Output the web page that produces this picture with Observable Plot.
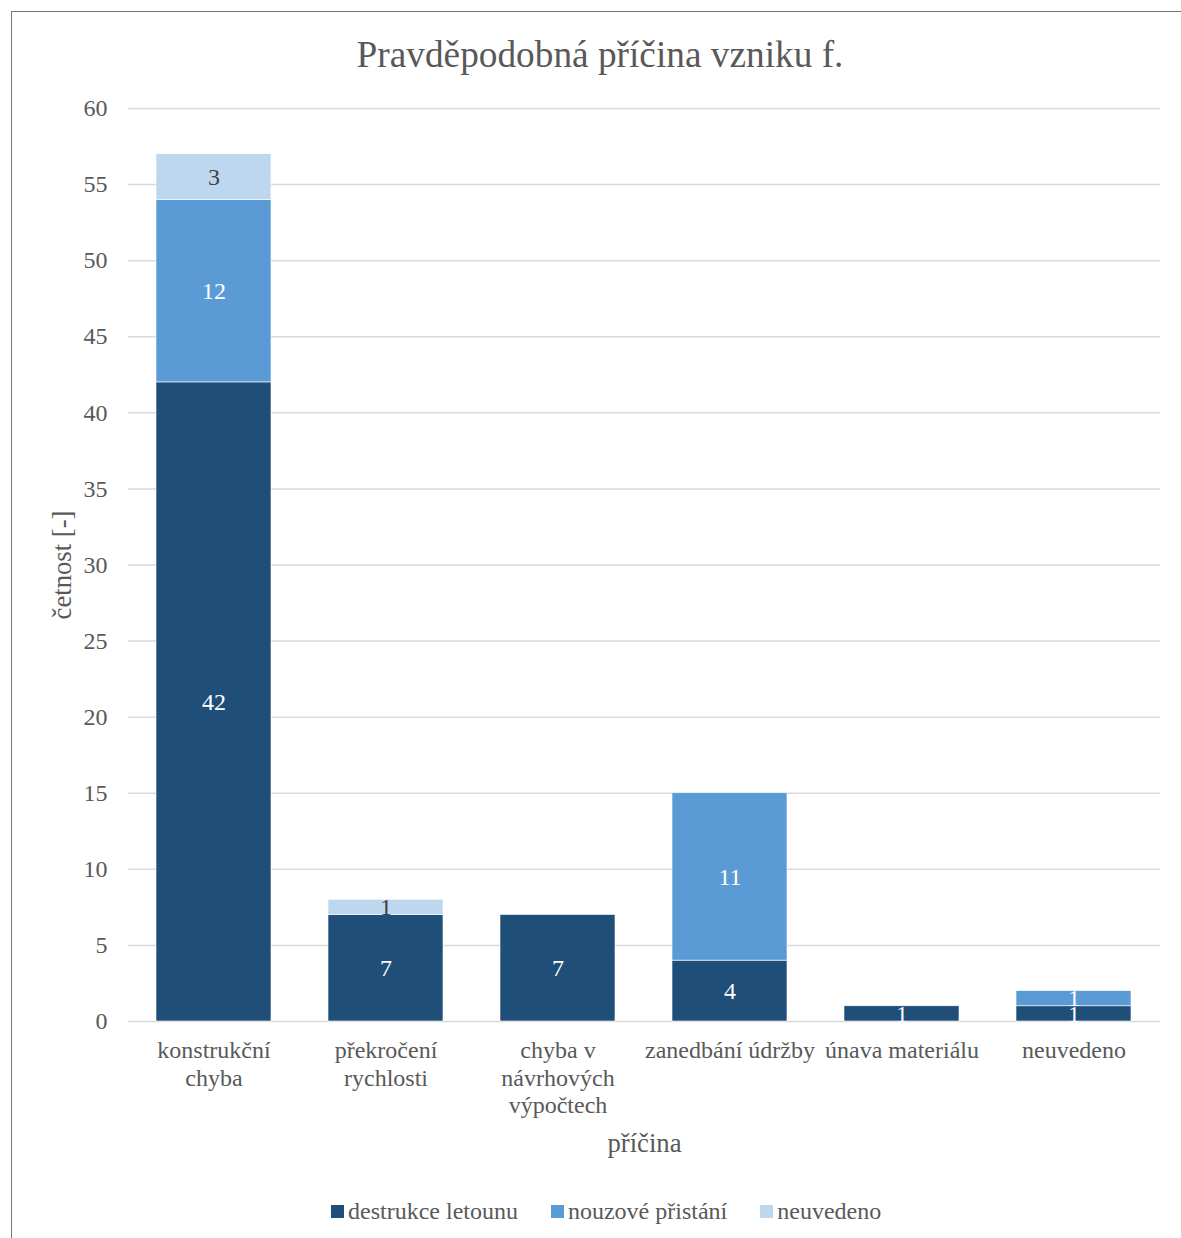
<!DOCTYPE html>
<html>
<head>
<meta charset="utf-8">
<script src="https://cdn.jsdelivr.net/npm/d3@7"></script>
<script src="https://cdn.jsdelivr.net/npm/@observablehq/plot@0.6"></script>
<style>
  body { margin: 0; background: #fff; }
  #chart { position: relative; width: 1181px; height: 1238px; overflow: hidden; background: #fff;
           font-family: "Liberation Serif", "Times New Roman", serif; color: #595959; }
  #frame { position: absolute; left: 11px; top: 11px; width: 1200px; height: 1260px; border: 1px solid #767676; }
  #title { position: absolute; left: 11px; width: 1178px; top: 30px; text-align: center;
           font-size: 37.3px; line-height: 50px; }
  #plot { position: absolute; left: 0; top: 80px; }
  #legend { position: absolute; left: 331px; top: 1197px; display: flex; align-items: center;
            font-size: 24px; line-height: 28px; white-space: nowrap; }
  #legend .item { display: flex; align-items: center; margin-right: 33px; }
  #legend .sw { width: 13px; height: 13px; margin-right: 4px; }
</style>
</head>
<body>
<div id="chart">
  <div id="frame"></div>
  <div id="title">Pravděpodobná příčina vzniku f.</div>
  <div id="plot"></div>
  <div id="legend"></div>
</div>
<script>
// Causes of failure and their counts per outcome
const categories = ["konstrukční chyba", "překročení rychlosti", "chyba v návrhových výpočtech",
                    "zanedbání údržby", "únava materiálu", "neuvedeno"];
const categoryLabels = ["konstrukční\nchyba", "překročení\nrychlosti", "chyba v\nnávrhových\nvýpočtech",
                        "zanedbání údržby", "únava materiálu", "neuvedeno"];
const seriesNames = ["destrukce letounu", "nouzové přistání", "neuvedeno"];
const destrukceLetounu = [42, 7, 7, 4, 1, 1];
const nouzovePristani = [12, 0, 0, 11, 0, 1];
const neuvedeno = [3, 1, 0, 0, 0, 0];
const seriesColors = ["#1f4e79", "#5b9bd5", "#bdd7ee"];
const yTicks = [0, 5, 10, 15, 20, 25, 30, 35, 40, 45, 50, 55, 60];

// Long-format rows, series-major so the first series sits at the bottom of each stack
const seriesValues = [destrukceLetounu, nouzovePristani, neuvedeno];
const rows = [];
seriesNames.forEach((s, si) => {
  categories.forEach((c, ci) => {
    const v = seriesValues[si][ci];
    if (v > 0) rows.push({cause: c, series: s, value: v});
  });
});

const lastSeries = seriesNames[2];

const chart = Plot.plot({
  width: 1181,
  height: 1100,
  marginTop: 28,
  marginBottom: 159,
  marginLeft: 128,
  marginRight: 21,
  style: {fontFamily: "'Liberation Serif', 'Times New Roman', serif", fontSize: "24px", color: "#595959", background: "transparent"},
  x: {domain: categories, paddingInner: 0.33, paddingOuter: 0.165, label: null},
  y: {domain: [0, 60], label: null},
  color: {domain: seriesNames, range: seriesColors},
  marks: [
    Plot.gridY(yTicks, {stroke: "#d9d9d9", strokeOpacity: 1, strokeWidth: 1.5}),
    Plot.barY(rows, {x: "cause", y: "value", fill: "series", stroke: "#ffffff", strokeWidth: 0.6}),
    // value labels: white on the darker segments, dark on the light one
    Plot.text(rows, Plot.stackY({
      x: "cause", y: "value", z: "series",
      text: d => d.series === lastSeries ? "" : String(d.value),
      fill: "#ffffff", fontSize: 24
    })),
    Plot.text(rows, Plot.stackY({
      x: "cause", y: "value", z: "series",
      text: d => d.series === lastSeries ? String(d.value) : "",
      fill: "#404040", fontSize: 24
    })),
    Plot.axisY({ticks: yTicks, tickSize: 0, tickPadding: 21, label: null}),
    Plot.axisX({tickSize: 0, tickPadding: 17, lineHeight: 1.15, label: null,
                tickFormat: d => categoryLabels[categories.indexOf(d)]}),
    Plot.text(["četnost [-]"], {frameAnchor: "left", rotate: -90, dx: -66, textAnchor: "middle",
                                lineAnchor: "middle", fontSize: 26.7, fill: "#595959"}),
    Plot.text(["příčina"], {frameAnchor: "bottom", dy: 122, textAnchor: "middle", lineAnchor: "middle",
                            fontSize: 26.7, fill: "#595959"})
  ]
});
document.getElementById("plot").appendChild(chart);

// Legend
const legend = document.getElementById("legend");
seriesNames.forEach((name, i) => {
  const item = document.createElement("div");
  item.className = "item";
  const sw = document.createElement("span");
  sw.className = "sw";
  sw.style.background = seriesColors[i];
  const label = document.createElement("span");
  label.textContent = name;
  item.appendChild(sw);
  item.appendChild(label);
  legend.appendChild(item);
});
</script>
</body>
</html>
